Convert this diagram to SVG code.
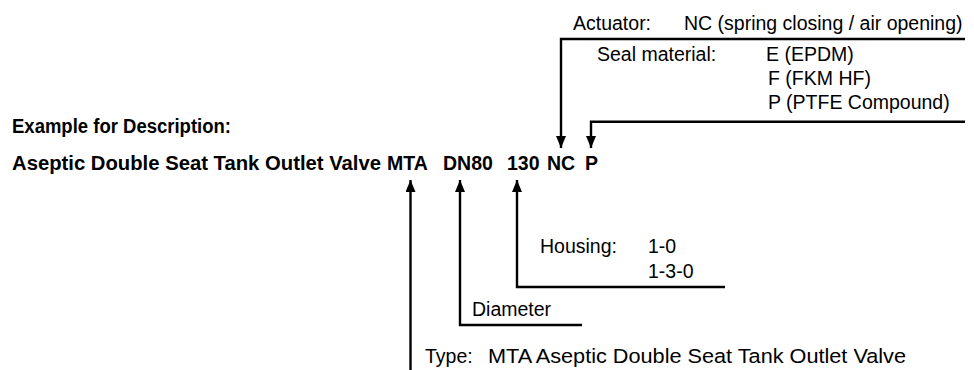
<svg xmlns="http://www.w3.org/2000/svg" width="974" height="370" viewBox="0 0 974 370">
  <style>
    text { font-family: "Liberation Sans", Arial, sans-serif; font-size: 19.5px; fill: #000; }
    .b { font-weight: bold; }
    .t { font-size: 20.5px; }
    .ln { fill: none; stroke: #000; stroke-width: 2.4; }
  </style>
  <defs>
    <marker id="ah" viewBox="0 0 12 10" refX="12" refY="5" markerWidth="12" markerHeight="10" markerUnits="userSpaceOnUse" orient="auto">
      <path d="M0,0 L12,5 L0,10 Z" fill="#000"/>
    </marker>
  </defs>
  <rect width="974" height="370" fill="#fff"/>

  <g id="title">
    <text class="b" x="12" y="133" textLength="219" lengthAdjust="spacingAndGlyphs">Example for Description:</text>
  </g>
  <g id="code">
    <text class="b" x="12" y="170" textLength="369" lengthAdjust="spacingAndGlyphs">Aseptic Double Seat Tank Outlet Valve</text>
    <text class="b" x="387" y="170">MTA</text>
    <text class="b" x="443" y="170">DN80</text>
    <text class="b" x="507" y="170">130</text>
    <text class="b" x="547" y="170">NC</text>
    <text class="b" x="585" y="170">P</text>
  </g>
  <g id="actuator">
    <text x="573" y="30">Actuator:</text>
    <text x="684" y="30">NC (spring closing / air opening)</text>
  </g>
  <g id="seal">
    <text x="597" y="61">Seal material:</text>
    <text x="766" y="61">E (EPDM)</text>
    <text x="768" y="85">F (FKM HF)</text>
    <text x="768" y="109">P (PTFE Compound)</text>
  </g>
  <g id="housing">
    <text x="540" y="253">Housing:</text>
    <text x="648" y="253">1-0</text>
    <text x="648" y="278">1-3-0</text>
  </g>
  <g id="diameter">
    <text x="472" y="316">Diameter</text>
  </g>
  <g id="type">
    <text x="425" y="363">Type:</text>
    <text class="t" x="488" y="363" textLength="418" lengthAdjust="spacingAndGlyphs">MTA Aseptic Double Seat Tank Outlet Valve</text>
  </g>

  <g id="connectors">
    <path class="ln" d="M965,39 H561 V148" marker-end="url(#ah)"/>
    <path class="ln" d="M965,121.7 H591 V148" marker-end="url(#ah)"/>
    <path class="ln" d="M725,287 H517 V180" marker-end="url(#ah)"/>
    <path class="ln" d="M582,325 H460 V180" marker-end="url(#ah)"/>
    <path class="ln" d="M410.5,372 V180" marker-end="url(#ah)"/>
  </g>
</svg>
